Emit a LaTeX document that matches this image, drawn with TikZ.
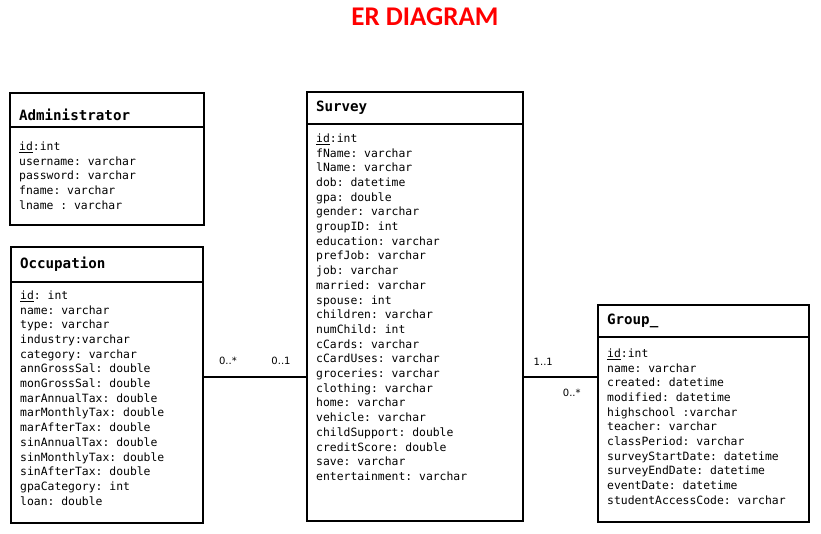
\documentclass[tikz,border=0pt]{standalone}
\usepackage{fontspec}
\setmonofont{DejaVu Sans Mono}
\newfontfamily\titlefont{Carlito}
\newfontfamily\multfont{DejaVu Sans}
\usetikzlibrary{positioning}

\begin{document}
\begin{tikzpicture}[x=1pt, y=-1pt,
    entityhead/.style={draw, line width=\rulew, outer sep=0pt, inner xsep=9pt, inner ysep=0pt,
        align=left, anchor=north west, font=\fontsize{14.2}{16}\selectfont\ttfamily\bfseries},
    entitybody/.style={draw, line width=\rulew, outer sep=0pt, inner sep=0pt},
    fields/.style={inner sep=0pt, align=left, anchor=north west,
        font=\fontsize{11.4}{14.7}\selectfont\ttfamily},
    mult/.style={inner sep=0pt, font=\fontsize{10}{12}\selectfont\multfont}]
\newcommand\rulew{1.6pt}
\useasboundingbox (0,0) rectangle (821,534);
%title
\node[font=\fontsize{27}{30}\selectfont\titlefont\bfseries, text=red] (title) at (425,17) {ER DIAGRAM};
%---------------------------------------------------------
%Administrator
\node[entityhead, text width=176pt, minimum height=34pt, text height=22pt] (admin) at (10,93) {Administrator};
\node[entitybody, minimum width=194pt, minimum height=98pt, below=0pt of admin] (adminbody) {};
\node[fields] (adminfields) at ([shift={(9,14.5)}]adminbody.north west)
    {\underline{id}:int\\username: varchar\\password: varchar\\fname: varchar\\lname : varchar};
%---------------------------------------------------------
%Occupation
\node[entityhead, text width=174pt, minimum height=35pt] (occup) at (11,247) {Occupation};
\node[entitybody, minimum width=192pt, minimum height=241pt, below=0pt of occup] (occupbody) {};
\node[fields] (occupfields) at ([shift={(9,8.5)}]occupbody.north west)
    {\underline{id}: int\\name: varchar\\type: varchar\\industry:varchar\\category: varchar\\
     annGrossSal: double\\monGrossSal: double\\marAnnualTax: double\\marMonthlyTax: double\\
     marAfterTax: double\\sinAnnualTax: double\\sinMonthlyTax: double\\sinAfterTax: double\\
     gpaCategory: int\\loan: double};
%---------------------------------------------------------
%Survey
\node[entityhead, text width=198pt, minimum height=32pt] (survey) at (307,92) {Survey};
\node[entitybody, minimum width=216pt, minimum height=397pt, below=0pt of survey] (surveybody) {};
\node[fields] (surveyfields) at ([shift={(9,9.5)}]surveybody.north west)
    {\underline{id}:int\\fName: varchar\\lName: varchar\\dob: datetime\\gpa: double\\
     gender: varchar\\groupID: int\\education: varchar\\prefJob: varchar\\job: varchar\\
     married: varchar\\spouse: int\\children: varchar\\numChild: int\\cCards: varchar\\
     cCardUses: varchar\\groceries: varchar\\clothing: varchar\\home: varchar\\
     vehicle: varchar\\childSupport: double\\creditScore: double\\save: varchar\\
     entertainment: varchar};
%---------------------------------------------------------
%Group_
\node[entityhead, text width=193pt, minimum height=32pt] (group) at (598,305) {Group\_};
\node[entitybody, minimum width=211pt, minimum height=185pt, below=0pt of group] (groupbody) {};
\node[fields] (groupfields) at ([shift={(9,11.5)}]groupbody.north west)
    {\underline{id}:int\\name: varchar\\created: datetime\\modified: datetime\\
     highschool :varchar\\teacher: varchar\\classPeriod: varchar\\
     surveyStartDate: datetime\\surveyEndDate: datetime\\eventDate: datetime\\
     studentAccessCode: varchar};
%---------------------------------------------------------
%links
\coordinate (link) at (0,377);
\draw[line width=1.2pt] (occupbody.east |- link) --
    node[mult, pos=0.24, above=12pt] (occupmult) {0..*}
    node[mult, pos=0.75, above=12pt] (surveymultl) {0..1}
    (surveybody.west |- link);
\draw[line width=1.2pt] (surveybody.east |- link) --
    node[mult, pos=0.27, above=11pt] (surveymultr) {1..1}
    node[mult, pos=0.65, below=11pt] (groupmult) {0..*}
    (groupbody.west |- link);
\end{tikzpicture}
\end{document}
